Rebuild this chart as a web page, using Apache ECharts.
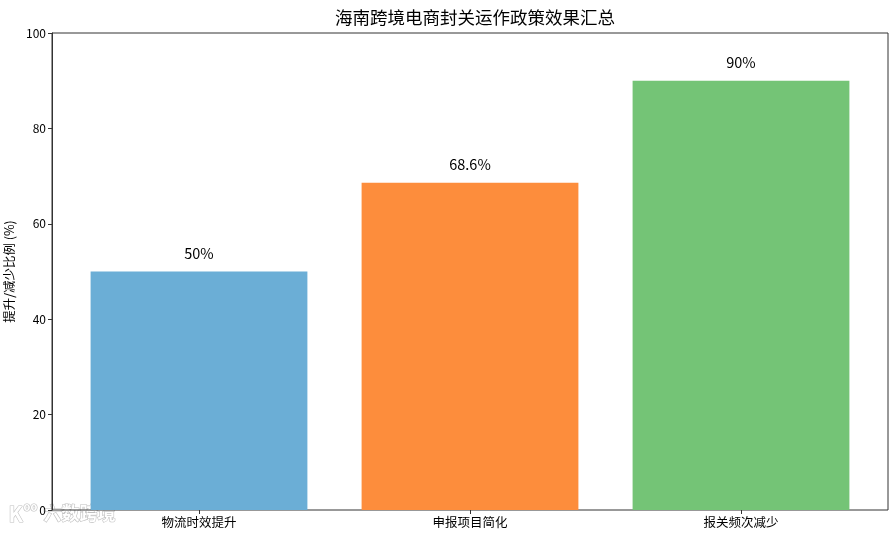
<!DOCTYPE html>
<html><head><meta charset="utf-8">
<script src="https://cdn.jsdelivr.net/npm/echarts@6/dist/echarts.min.js"></script>
<style>html,body{margin:0;padding:0;background:#fff}#c{width:892px;height:533px}</style>
</head><body><div id="c"></div>
<script>
var categories = ['物流时效提升', '申报项目简化', '报关频次减少'];
var values = [50, 68.6, 90];
var labels = ['50%', '68.6%', '90%'];
var colors = ['#6baed6', '#fd8d3c', '#74c476'];
var font = '"Noto Sans CJK SC", "Noto Sans", sans-serif';

var chart = echarts.init(document.getElementById('c'), null, {renderer: 'canvas'});
chart.setOption({
  animation: false,
  title: {text: '海南跨境电商封关运作政策效果汇总', left: 470, top: 4, textAlign: 'center',
    textStyle: {fontFamily: font, fontSize: 17.5, fontWeight: 'normal', color: '#000'}},
  grid: [
    {left: 52, top: 33, width: 836, height: 477, show: true, borderColor: '#333', borderWidth: 1,
     backgroundColor: 'transparent', outerBoundsMode: 'none', containLabel: false},
    {left: 63.5, top: 33, width: 813, height: 477, outerBoundsMode: 'none', containLabel: false}
  ],
  xAxis: [
    {gridIndex: 0, type: 'value', min: 0, max: 1, show: false},
    {gridIndex: 1, type: 'category', data: categories,
     axisLine: {show: false},
     axisTick: {show: true, alignWithLabel: true, length: 4, lineStyle: {color: '#333'}},
     axisLabel: {fontFamily: font, fontSize: 12.5, color: '#000', margin: 6}}
  ],
  yAxis: [
    {gridIndex: 0, type: 'value', min: 0, max: 100, interval: 20,
     name: '提升/减少比例 (%)', nameLocation: 'middle', nameGap: 36,
     nameTextStyle: {fontFamily: font, fontSize: 12.5, color: '#000'},
     axisLine: {show: true, lineStyle: {color: '#333'}},
     axisTick: {show: true, length: 4, lineStyle: {color: '#333'}},
     axisLabel: {fontFamily: font, fontSize: 12, color: '#000', margin: 6},
     splitLine: {show: false}},
    {gridIndex: 1, type: 'value', min: 0, max: 100, show: false}
  ],
  series: [{
    type: 'bar', xAxisIndex: 1, yAxisIndex: 1,
    barWidth: '80%',
    data: values.map(function (v, i) { return {value: v, itemStyle: {color: colors[i]}}; }),
    label: {show: true, position: 'top', distance: 11, fontFamily: font, fontSize: 14.5, color: '#000',
      formatter: function (p) { return labels[p.dataIndex]; }}
  }],
  graphic: [
    {type: 'text', left: 8, top: 503, z: -1,
     style: {text: 'K', fontFamily: font, fontSize: 21, fontWeight: 'bold', fill: '#fff', stroke: '#c0c0c0', lineWidth: 1.2}},
    {type: 'text', left: 23, top: 501, z: -1,
     style: {text: 'oo', fontFamily: font, fontSize: 11, fontWeight: 'bold', fill: '#fff', stroke: '#c0c0c0', lineWidth: 1.2}},
    {type: 'text', left: 43, top: 504, z: -1,
     style: {text: '六数跨境', fontFamily: font, fontSize: 18, fontWeight: 'bold', fill: '#fff', stroke: '#c0c0c0', lineWidth: 1.2}}
  ]
});
</script></body></html>
